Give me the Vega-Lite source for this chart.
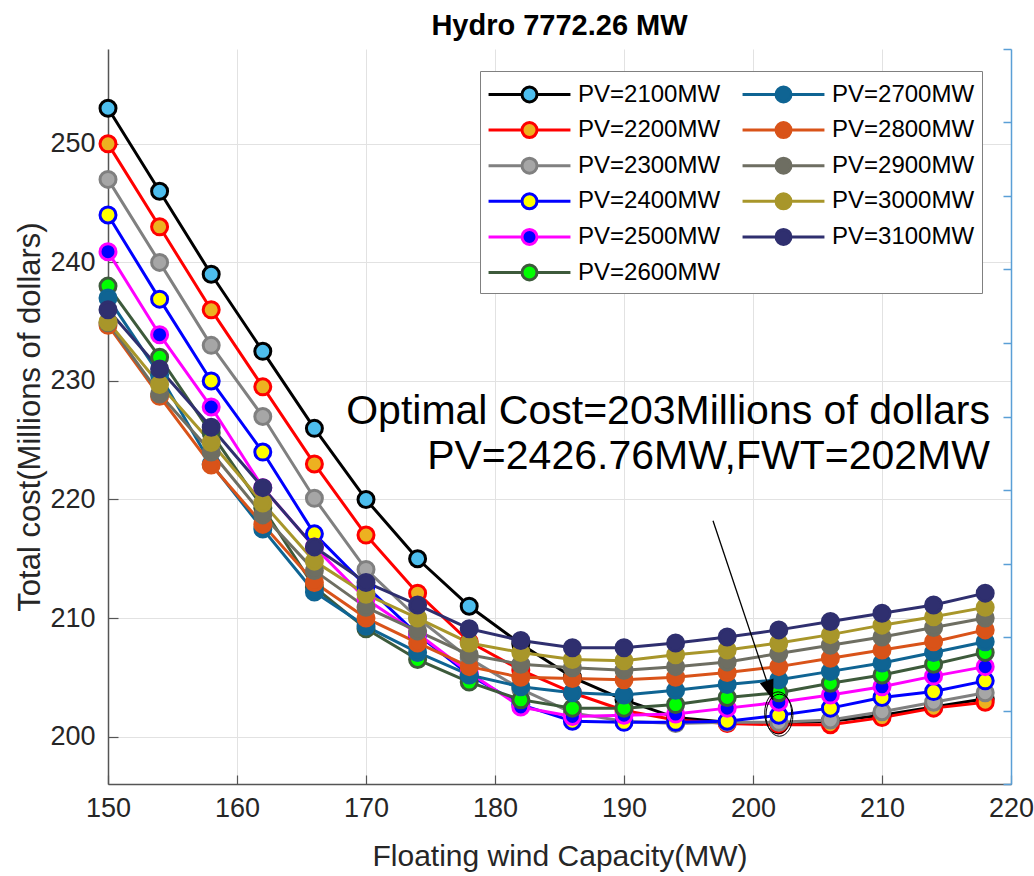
{
  "$schema": "https://vega.github.io/schema/vega-lite/v6.json",
  "width": 903,
  "height": 735,
  "autosize": "none",
  "padding": {"left": 108, "top": 49, "right": 23, "bottom": 92},
  "background": "white",
  "config": {"view": {"stroke": null}, "font": "Liberation Sans"},
  "title": {"text": "Hydro 7772.26 MW", "fontSize": 29, "font": "Liberation Sans", "fontWeight": "bold", "color": "black", "offset": 7, "anchor": "middle"},
  "resolve": {"axis": {"y": "independent"}},
  "datasets": {
    "curves": [
      {"s":"PV=2100MW","x":150,"y":253.0},{"s":"PV=2100MW","x":154,"y":246.0},{"s":"PV=2100MW","x":158,"y":239.0},{"s":"PV=2100MW","x":162,"y":232.5},{"s":"PV=2100MW","x":166,"y":226.0},{"s":"PV=2100MW","x":170,"y":220.0},{"s":"PV=2100MW","x":174,"y":215.0},{"s":"PV=2100MW","x":178,"y":211.0},{"s":"PV=2100MW","x":182,"y":207.8},{"s":"PV=2100MW","x":186,"y":205.0},{"s":"PV=2100MW","x":190,"y":203.1},{"s":"PV=2100MW","x":194,"y":201.6},{"s":"PV=2100MW","x":198,"y":201.2},{"s":"PV=2100MW","x":202,"y":201.1},{"s":"PV=2100MW","x":206,"y":201.3},{"s":"PV=2100MW","x":210,"y":201.8},{"s":"PV=2100MW","x":214,"y":202.5},{"s":"PV=2100MW","x":218,"y":203.2},
      {"s":"PV=2200MW","x":150,"y":250.0},{"s":"PV=2200MW","x":154,"y":243.0},{"s":"PV=2200MW","x":158,"y":236.0},{"s":"PV=2200MW","x":162,"y":229.5},{"s":"PV=2200MW","x":166,"y":223.0},{"s":"PV=2200MW","x":170,"y":217.0},{"s":"PV=2200MW","x":174,"y":212.1},{"s":"PV=2200MW","x":178,"y":208.0},{"s":"PV=2200MW","x":182,"y":205.6},{"s":"PV=2200MW","x":186,"y":203.7},{"s":"PV=2200MW","x":190,"y":202.2},{"s":"PV=2200MW","x":194,"y":201.4},{"s":"PV=2200MW","x":198,"y":201.1},{"s":"PV=2200MW","x":202,"y":201.0},{"s":"PV=2200MW","x":206,"y":201.0},{"s":"PV=2200MW","x":210,"y":201.6},{"s":"PV=2200MW","x":214,"y":202.4},{"s":"PV=2200MW","x":218,"y":202.9},
      {"s":"PV=2300MW","x":150,"y":247.0},{"s":"PV=2300MW","x":154,"y":240.0},{"s":"PV=2300MW","x":158,"y":233.0},{"s":"PV=2300MW","x":162,"y":227.0},{"s":"PV=2300MW","x":166,"y":220.1},{"s":"PV=2300MW","x":170,"y":214.1},{"s":"PV=2300MW","x":174,"y":210.0},{"s":"PV=2300MW","x":178,"y":206.6},{"s":"PV=2300MW","x":182,"y":204.0},{"s":"PV=2300MW","x":186,"y":202.0},{"s":"PV=2300MW","x":190,"y":201.3},{"s":"PV=2300MW","x":194,"y":201.1},{"s":"PV=2300MW","x":198,"y":201.2},{"s":"PV=2300MW","x":202,"y":201.2},{"s":"PV=2300MW","x":206,"y":201.4},{"s":"PV=2300MW","x":210,"y":202.1},{"s":"PV=2300MW","x":214,"y":202.9},{"s":"PV=2300MW","x":218,"y":203.7},
      {"s":"PV=2400MW","x":150,"y":244.0},{"s":"PV=2400MW","x":154,"y":236.9},{"s":"PV=2400MW","x":158,"y":230.0},{"s":"PV=2400MW","x":162,"y":224.0},{"s":"PV=2400MW","x":166,"y":217.1},{"s":"PV=2400MW","x":170,"y":212.7},{"s":"PV=2400MW","x":174,"y":208.6},{"s":"PV=2400MW","x":178,"y":205.2},{"s":"PV=2400MW","x":182,"y":202.7},{"s":"PV=2400MW","x":186,"y":201.3},{"s":"PV=2400MW","x":190,"y":201.2},{"s":"PV=2400MW","x":194,"y":201.2},{"s":"PV=2400MW","x":198,"y":201.3},{"s":"PV=2400MW","x":202,"y":201.8},{"s":"PV=2400MW","x":206,"y":202.4},{"s":"PV=2400MW","x":210,"y":203.3},{"s":"PV=2400MW","x":214,"y":203.8},{"s":"PV=2400MW","x":218,"y":204.7},
      {"s":"PV=2500MW","x":150,"y":240.9},{"s":"PV=2500MW","x":154,"y":233.9},{"s":"PV=2500MW","x":158,"y":227.8},{"s":"PV=2500MW","x":162,"y":221.0},{"s":"PV=2500MW","x":166,"y":216.0},{"s":"PV=2500MW","x":170,"y":211.6},{"s":"PV=2500MW","x":174,"y":208.7},{"s":"PV=2500MW","x":178,"y":205.4},{"s":"PV=2500MW","x":182,"y":202.5},{"s":"PV=2500MW","x":186,"y":201.7},{"s":"PV=2500MW","x":190,"y":201.8},{"s":"PV=2500MW","x":194,"y":201.9},{"s":"PV=2500MW","x":198,"y":202.4},{"s":"PV=2500MW","x":202,"y":202.9},{"s":"PV=2500MW","x":206,"y":203.5},{"s":"PV=2500MW","x":210,"y":204.2},{"s":"PV=2500MW","x":214,"y":205.1},{"s":"PV=2500MW","x":218,"y":205.9},
      {"s":"PV=2600MW","x":150,"y":238.0},{"s":"PV=2600MW","x":154,"y":232.0},{"s":"PV=2600MW","x":158,"y":225.6},{"s":"PV=2600MW","x":162,"y":219.3},{"s":"PV=2600MW","x":166,"y":212.6},{"s":"PV=2600MW","x":170,"y":209.1},{"s":"PV=2600MW","x":174,"y":206.5},{"s":"PV=2600MW","x":178,"y":204.6},{"s":"PV=2600MW","x":182,"y":203.1},{"s":"PV=2600MW","x":186,"y":202.4},{"s":"PV=2600MW","x":190,"y":202.4},{"s":"PV=2600MW","x":194,"y":202.7},{"s":"PV=2600MW","x":198,"y":203.3},{"s":"PV=2600MW","x":202,"y":203.7},{"s":"PV=2600MW","x":206,"y":204.5},{"s":"PV=2600MW","x":210,"y":205.2},{"s":"PV=2600MW","x":214,"y":206.1},{"s":"PV=2600MW","x":218,"y":207.1},
      {"s":"PV=2700MW","x":150,"y":237.0},{"s":"PV=2700MW","x":154,"y":230.5},{"s":"PV=2700MW","x":158,"y":223.0},{"s":"PV=2700MW","x":162,"y":217.5},{"s":"PV=2700MW","x":166,"y":212.2},{"s":"PV=2700MW","x":170,"y":209.3},{"s":"PV=2700MW","x":174,"y":207.1},{"s":"PV=2700MW","x":178,"y":205.2},{"s":"PV=2700MW","x":182,"y":204.2},{"s":"PV=2700MW","x":186,"y":203.7},{"s":"PV=2700MW","x":190,"y":203.5},{"s":"PV=2700MW","x":194,"y":203.9},{"s":"PV=2700MW","x":198,"y":204.4},{"s":"PV=2700MW","x":202,"y":204.8},{"s":"PV=2700MW","x":206,"y":205.5},{"s":"PV=2700MW","x":210,"y":206.2},{"s":"PV=2700MW","x":214,"y":207.1},{"s":"PV=2700MW","x":218,"y":208.0},
      {"s":"PV=2800MW","x":150,"y":234.7},{"s":"PV=2800MW","x":154,"y":228.7},{"s":"PV=2800MW","x":158,"y":222.9},{"s":"PV=2800MW","x":162,"y":217.9},{"s":"PV=2800MW","x":166,"y":213.0},{"s":"PV=2800MW","x":170,"y":210.0},{"s":"PV=2800MW","x":174,"y":207.9},{"s":"PV=2800MW","x":178,"y":205.9},{"s":"PV=2800MW","x":182,"y":205.0},{"s":"PV=2800MW","x":186,"y":204.9},{"s":"PV=2800MW","x":190,"y":204.8},{"s":"PV=2800MW","x":194,"y":205.0},{"s":"PV=2800MW","x":198,"y":205.4},{"s":"PV=2800MW","x":202,"y":205.9},{"s":"PV=2800MW","x":206,"y":206.6},{"s":"PV=2800MW","x":210,"y":207.3},{"s":"PV=2800MW","x":214,"y":208.0},{"s":"PV=2800MW","x":218,"y":209.0},
      {"s":"PV=2900MW","x":150,"y":234.9},{"s":"PV=2900MW","x":154,"y":228.9},{"s":"PV=2900MW","x":158,"y":224.0},{"s":"PV=2900MW","x":162,"y":218.7},{"s":"PV=2900MW","x":166,"y":214.0},{"s":"PV=2900MW","x":170,"y":210.9},{"s":"PV=2900MW","x":174,"y":208.9},{"s":"PV=2900MW","x":178,"y":206.9},{"s":"PV=2900MW","x":182,"y":206.1},{"s":"PV=2900MW","x":186,"y":205.8},{"s":"PV=2900MW","x":190,"y":205.6},{"s":"PV=2900MW","x":194,"y":205.9},{"s":"PV=2900MW","x":198,"y":206.3},{"s":"PV=2900MW","x":202,"y":207.0},{"s":"PV=2900MW","x":206,"y":207.7},{"s":"PV=2900MW","x":210,"y":208.4},{"s":"PV=2900MW","x":214,"y":209.2},{"s":"PV=2900MW","x":218,"y":210.0},
      {"s":"PV=3000MW","x":150,"y":235.0},{"s":"PV=3000MW","x":154,"y":229.7},{"s":"PV=3000MW","x":158,"y":224.8},{"s":"PV=3000MW","x":162,"y":219.7},{"s":"PV=3000MW","x":166,"y":214.8},{"s":"PV=3000MW","x":170,"y":212.0},{"s":"PV=3000MW","x":174,"y":210.0},{"s":"PV=3000MW","x":178,"y":207.9},{"s":"PV=3000MW","x":182,"y":207.1},{"s":"PV=3000MW","x":186,"y":206.5},{"s":"PV=3000MW","x":190,"y":206.4},{"s":"PV=3000MW","x":194,"y":206.9},{"s":"PV=3000MW","x":198,"y":207.3},{"s":"PV=3000MW","x":202,"y":207.9},{"s":"PV=3000MW","x":206,"y":208.6},{"s":"PV=3000MW","x":210,"y":209.4},{"s":"PV=3000MW","x":214,"y":210.1},{"s":"PV=3000MW","x":218,"y":210.9},
      {"s":"PV=3100MW","x":150,"y":236.0},{"s":"PV=3100MW","x":154,"y":231.0},{"s":"PV=3100MW","x":158,"y":226.1},{"s":"PV=3100MW","x":162,"y":221.0},{"s":"PV=3100MW","x":166,"y":216.0},{"s":"PV=3100MW","x":170,"y":213.0},{"s":"PV=3100MW","x":174,"y":211.1},{"s":"PV=3100MW","x":178,"y":209.1},{"s":"PV=3100MW","x":182,"y":208.1},{"s":"PV=3100MW","x":186,"y":207.5},{"s":"PV=3100MW","x":190,"y":207.5},{"s":"PV=3100MW","x":194,"y":207.9},{"s":"PV=3100MW","x":198,"y":208.4},{"s":"PV=3100MW","x":202,"y":209.0},{"s":"PV=3100MW","x":206,"y":209.7},{"s":"PV=3100MW","x":210,"y":210.4},{"s":"PV=3100MW","x":214,"y":211.1},{"s":"PV=3100MW","x":218,"y":212.1}
    ],
    "notes": [
      {"x": 218.37, "y": 226.37, "t": "Optimal Cost=203Millions of dollars"},
      {"x": 218.37, "y": 222.57, "t": "PV=2426.76MW,FWT=202MW"}
    ],
    "arrow": [{"x": 196.9, "y": 218.2, "x2": 201.55, "y2": 203.1}],
    "ellipse": [{"x": 201.95, "y": 202.0}, {"x": 202.05, "y": 201.8}]
  },
  "layer": [
    {
      "data": {"name": "curves"},
      "mark": {"type": "line", "strokeWidth": 3, "strokeJoin": "round"},
      "encoding": {
        "x": {"field": "x", "type": "quantitative", "scale": {"domain": [150, 220], "nice": false, "zero": false},
          "axis": {"title": "Floating wind Capacity(MW)", "values": [150,160,170,180,190,200,210,220], "labelFlush": false, "grid": true, "gridColor": "#e2e2e2", "gridWidth": 1, "domainColor": "#555555", "domainWidth": 1.5, "tickColor": "#555555", "tickSize": -9, "tickWidth": 1.2, "labelPadding": 20, "labelFontSize": 27, "labelColor": "#262626", "labelFont": "Liberation Sans", "titleFont": "Liberation Sans", "titleFontSize": 30, "titleFontWeight": "normal", "titleColor": "#262626", "titlePadding": 20}},
        "y": {"field": "y", "type": "quantitative", "scale": {"domain": [196, 258], "nice": false, "zero": false},
          "axis": {"title": "Total cost(Millions of dollars)", "values": [200,210,220,230,240,250], "labelFlush": false, "grid": true, "gridColor": "#e2e2e2", "gridWidth": 1, "domainColor": "#555555", "domainWidth": 1.5, "tickColor": "#555555", "tickSize": -10, "tickWidth": 1.2, "labelPadding": 23, "labelFontSize": 27, "labelColor": "#262626", "labelFont": "Liberation Sans", "titleFont": "Liberation Sans", "titleFontSize": 31, "titleFontWeight": "normal", "titleColor": "#262626", "titlePadding": 3}},
        "stroke": {"field": "s", "type": "nominal", "title": null,
          "scale": {"domain": ["PV=2100MW","PV=2200MW","PV=2300MW","PV=2400MW","PV=2500MW","PV=2600MW","PV=2700MW","PV=2800MW","PV=2900MW","PV=3000MW","PV=3100MW"],
                    "range": ["#000000","#FF0000","#808080","#0000FF","#FF00FF","#3D5A3B","#0F6493","#D95319","#6E6E62","#A8962A","#2F2F6F"]},
          "legend": {"orient": "none", "legendX": 372, "legendY": 22, "columns": 2, "columnPadding": 15, "rowPadding": 5.6, "padding": 7, "symbolType": "M-2.73,0L-0.5,0M0.5,0L2.73,0M0.5,0A0.5,0.5,0,1,1,-0.5,0A0.5,0.5,0,1,1,0.5,0Z", "symbolSize": 900, "symbolStrokeWidth": 3, "symbolOffset": 26, "symbolFillColor": "white", "labelOffset": 32, "labelFontSize": 24, "labelFont": "Liberation Sans", "labelColor": "black", "labelLimit": 400, "strokeColor": "#808080", "fillColor": "white"}}
      }
    },
    {
      "data": {"name": "curves"},
      "mark": {"type": "point", "shape": "circle", "filled": true, "strokeWidth": 3, "size": 256, "opacity": 1},
      "encoding": {
        "x": {"field": "x", "type": "quantitative", "scale": {"domain": [150, 220], "nice": false, "zero": false}},
        "y": {"field": "y", "type": "quantitative", "scale": {"domain": [196, 258], "nice": false, "zero": false}, "axis": null},
        "stroke": {"field": "s", "type": "nominal", "title": null,
          "scale": {"domain": ["PV=2100MW","PV=2200MW","PV=2300MW","PV=2400MW","PV=2500MW","PV=2600MW","PV=2700MW","PV=2800MW","PV=2900MW","PV=3000MW","PV=3100MW"],
                    "range": ["#000000","#FF0000","#808080","#0000FF","#FF00FF","#3D5A3B","#0F6493","#D95319","#6E6E62","#A8962A","#2F2F6F"]},
          "legend": {"orient": "none", "legendX": 372, "legendY": 22, "columns": 2, "columnPadding": 15, "rowPadding": 5.6, "padding": 7, "symbolType": "M-2.73,0L-0.5,0M0.5,0L2.73,0M0.5,0A0.5,0.5,0,1,1,-0.5,0A0.5,0.5,0,1,1,0.5,0Z", "symbolSize": 900, "symbolStrokeWidth": 3, "symbolOffset": 26, "symbolFillColor": "white", "labelOffset": 32, "labelFontSize": 24, "labelFont": "Liberation Sans", "labelColor": "black", "labelLimit": 400, "strokeColor": "#808080", "fillColor": "white"}},
        "fill": {"field": "s", "type": "nominal", "title": null,
          "scale": {"domain": ["PV=2100MW","PV=2200MW","PV=2300MW","PV=2400MW","PV=2500MW","PV=2600MW","PV=2700MW","PV=2800MW","PV=2900MW","PV=3000MW","PV=3100MW"],
                    "range": ["#4DBEEE","#EDB120","#A6A6A6","#FFFF00","#0000FF","#00FF00","#0F6493","#D95319","#6E6E62","#A8962A","#2F2F6F"]},
          "legend": {"orient": "none", "legendX": 372, "legendY": 22, "columns": 2, "columnPadding": 15, "rowPadding": 5.6, "padding": 7, "symbolType": "M-2.73,0L-0.5,0M0.5,0L2.73,0M0.5,0A0.5,0.5,0,1,1,-0.5,0A0.5,0.5,0,1,1,0.5,0Z", "symbolSize": 900, "symbolStrokeWidth": 3, "symbolOffset": 26, "symbolFillColor": "white", "labelOffset": 32, "labelFontSize": 24, "labelFont": "Liberation Sans", "labelColor": "black", "labelLimit": 400, "strokeColor": "#808080", "fillColor": "white"}}
      }
    },
    {
      "data": {"name": "arrow"},
      "mark": {"type": "rule", "color": "black", "strokeWidth": 1.3},
      "encoding": {
        "x": {"field": "x", "type": "quantitative", "scale": {"domain": [150, 220], "nice": false, "zero": false}},
        "y": {"field": "y", "type": "quantitative", "scale": {"domain": [196, 258], "nice": false, "zero": false}, "axis": null},
        "x2": {"field": "x2"},
        "y2": {"field": "y2"}
      }
    },
    {
      "data": {"name": "arrow"},
      "mark": {"type": "point", "shape": "M0,0L0.36,1L-0.36,1Z", "filled": true, "color": "black", "size": 1600, "angle": 161.5, "opacity": 1, "strokeWidth": 0},
      "encoding": {
        "x": {"field": "x2", "type": "quantitative", "scale": {"domain": [150, 220], "nice": false, "zero": false}},
        "y": {"field": "y2", "type": "quantitative", "scale": {"domain": [196, 258], "nice": false, "zero": false}, "axis": null}
      }
    },
    {
      "data": {"name": "ellipse"},
      "mark": {"type": "point", "shape": "M0.64,0A0.64,1,0,1,1,-0.64,0A0.64,1,0,1,1,0.64,0Z", "filled": false, "stroke": "black", "strokeWidth": 1, "size": 1764, "opacity": 1},
      "encoding": {
        "x": {"field": "x", "type": "quantitative", "scale": {"domain": [150, 220], "nice": false, "zero": false}},
        "y": {"field": "y", "type": "quantitative", "scale": {"domain": [196, 258], "nice": false, "zero": false},
          "axis": {"orient": "right", "title": null, "values": [196,202.2,208.4,214.6,220.8,227,233.2,239.4,245.6,251.8,258], "labels": false, "grid": false, "domainColor": "#5A9FD6", "domainWidth": 1.5, "tickColor": "#5A9FD6", "tickWidth": 1.5, "tickSize": -8}}
      }
    },
    {
      "data": {"name": "notes"},
      "mark": {"type": "text", "align": "right", "baseline": "alphabetic", "fontSize": 41, "font": "Liberation Sans", "color": "black"},
      "encoding": {
        "x": {"field": "x", "type": "quantitative", "scale": {"domain": [150, 220], "nice": false, "zero": false}},
        "y": {"field": "y", "type": "quantitative", "scale": {"domain": [196, 258], "nice": false, "zero": false}, "axis": null},
        "text": {"field": "t"}
      }
    }
  ]
}
